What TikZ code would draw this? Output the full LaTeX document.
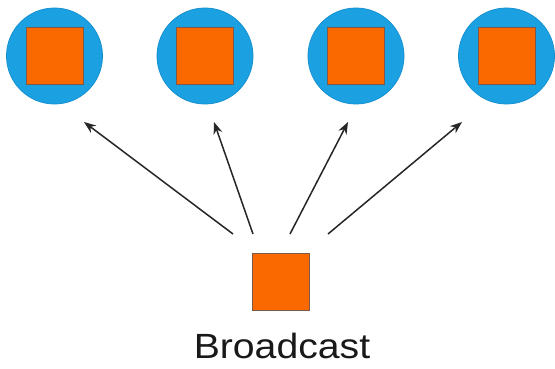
\documentclass[tikz,border=0pt]{standalone}
\usepackage{fontspec}
\setmainfont{Liberation Sans}
\usetikzlibrary{arrows.meta}
\definecolor{nodeblue}{HTML}{1BA1E2}
\definecolor{nodeblueline}{HTML}{1590D0}
\definecolor{boxorange}{HTML}{FA6800}
\definecolor{boxline}{HTML}{7A5A4A}
\begin{document}
\begin{tikzpicture}[x=1pt,y=-1pt,
  receiver/.style={circle,fill=nodeblue,draw=nodeblueline,line width=0.8pt,minimum size=96pt,inner sep=0pt},
  payload/.style={rectangle,fill=boxorange,draw=boxline,line width=1pt,minimum size=57pt,inner sep=0pt},
  sendarrow/.style={line width=1.5pt,draw=black!85,-{Stealth[length=12pt,width=9pt]}}]
  \useasboundingbox (0,0) rectangle (555,369);
  % receivers
  \node[receiver] (r1) at (54.5,56) {};
  \node[receiver] (r2) at (205,56) {};
  \node[receiver] (r3) at (356,56) {};
  \node[receiver] (r4) at (506.5,56) {};
  \node[payload] (p1) at (r1) {};
  \node[payload] (p2) at (r2) {};
  \node[payload] (p3) at (r3) {};
  \node[payload] (p4) at (r4) {};
  % sender
  \node[payload] (src) at (281,282) {};
  \node[font=\fontsize{35}{40}\selectfont,xscale=1.12,inner sep=0pt,text=black!90] (lbl) at (282,346) {Broadcast};
  % arrow ends
  \coordinate (s1) at (233,234);
  \coordinate (s2) at (253,234);
  \coordinate (s3) at (290,234);
  \coordinate (s4) at (328,234);
  \coordinate (t1) at (84,122);
  \coordinate (t2) at (214,122);
  \coordinate (t3) at (348,122);
  \coordinate (t4) at (462,122);
  \draw[sendarrow] (s1) -- (t1);
  \draw[sendarrow] (s2) -- (t2);
  \draw[sendarrow] (s3) -- (t3);
  \draw[sendarrow] (s4) -- (t4);
\end{tikzpicture}
\end{document}
